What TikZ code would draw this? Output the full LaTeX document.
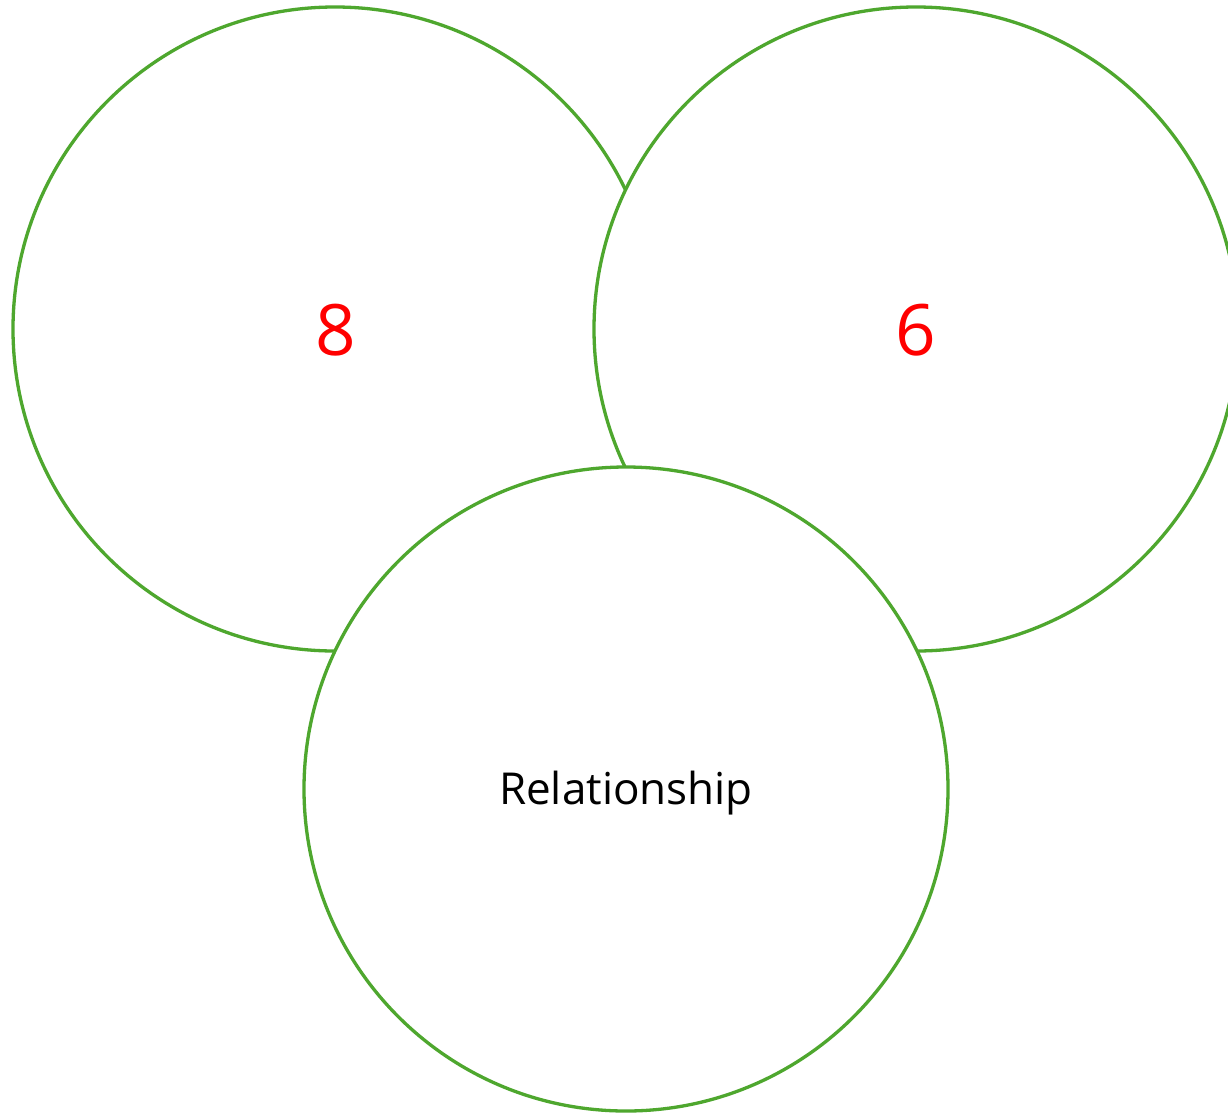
\documentclass[tikz,border=0pt]{standalone}
\usepackage{fontspec}
\setmainfont{Open Sans}
\definecolor{ringgreen}{HTML}{4EA72E}
\definecolor{numred}{HTML}{FF0000}
\tikzset{
  ring/.style={circle, draw=ringgreen, line width=3.3pt, fill=white, minimum size=644pt, inner sep=0pt},
  numtext/.style={text=numred, font=\fontsize{71}{84}\selectfont},
  reltext/.style={text=black, font=\fontsize{44}{52}\selectfont}
}
\begin{document}
\begin{tikzpicture}[x=1pt,y=-1pt]
  \clip (0,0) rectangle (1228,1114);
  \fill[white] (0,0) rectangle (1228,1114);
  \node[ring] (left) at (335,329) {};
  \node[ring] (right) at (916,329) {};
  \node[ring] (bottom) at (626,789) {};
  \node[numtext] (eight) at (336,330) {8};
  \node[numtext] (six) at (916,330) {6};
  \node[reltext] (rel) at (626,793) {Relationship};
\end{tikzpicture}
\end{document}
